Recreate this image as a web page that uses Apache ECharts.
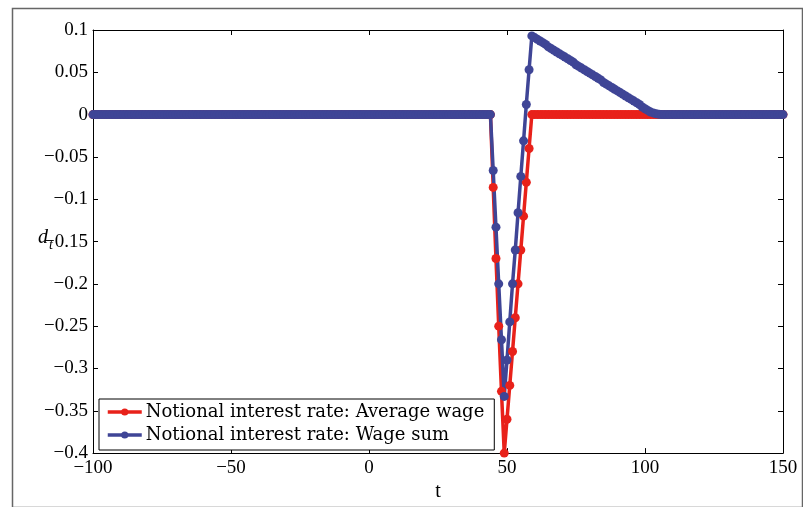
<!DOCTYPE html>
<html>
<head>
<meta charset="utf-8">
<script src="https://cdn.jsdelivr.net/npm/echarts@6/dist/echarts.min.js"></script>
<style>
html,body{margin:0;padding:0;background:#fff;}
#chart{width:803px;height:507px;}
</style>
</head>
<body>
<div id="chart"></div>
<script>
// time index t = -100 ... 150 (step 1)
var tStart = -100, tEnd = 150;
var seriesNames = ['Notional interest rate: Average wage', 'Notional interest rate: Wage sum'];
var xTicks = [-100, -50, 0, 50, 100, 150];
var yTicks = [-0.4, -0.35, -0.3, -0.25, -0.2, -0.15, -0.1, -0.05, 0, 0.05, 0.1];

// Average wage (red), one row = 10 consecutive t values, starting at t = -100
var avgWage = [
  0,0,0,0,0,0,0,0,0,0,            // -100..-91
  0,0,0,0,0,0,0,0,0,0,            // -90..-81
  0,0,0,0,0,0,0,0,0,0,            // -80..-71
  0,0,0,0,0,0,0,0,0,0,            // -70..-61
  0,0,0,0,0,0,0,0,0,0,            // -60..-51
  0,0,0,0,0,0,0,0,0,0,            // -50..-41
  0,0,0,0,0,0,0,0,0,0,            // -40..-31
  0,0,0,0,0,0,0,0,0,0,            // -30..-21
  0,0,0,0,0,0,0,0,0,0,            // -20..-11
  0,0,0,0,0,0,0,0,0,0,            // -10..-1
  0,0,0,0,0,0,0,0,0,0,            // 0..9
  0,0,0,0,0,0,0,0,0,0,            // 10..19
  0,0,0,0,0,0,0,0,0,0,            // 20..29
  0,0,0,0,0,0,0,0,0,0,            // 30..39
  0,0,0,0,0,-0.086,-0.17,-0.25,-0.327,-0.4,          // 40..49
  -0.36,-0.32,-0.28,-0.24,-0.2,-0.16,-0.12,-0.08,-0.04,0, // 50..59
  0,0,0,0,0,0,0,0,0,0,            // 60..69
  0,0,0,0,0,0,0,0,0,0,            // 70..79
  0,0,0,0,0,0,0,0,0,0,            // 80..89
  0,0,0,0,0,0,0,0,0,0,            // 90..99
  0,0,0,0,0,0,0,0,0,0,            // 100..109
  0,0,0,0,0,0,0,0,0,0,            // 110..119
  0,0,0,0,0,0,0,0,0,0,            // 120..129
  0,0,0,0,0,0,0,0,0,0,            // 130..139
  0,0,0,0,0,0,0,0,0,0,            // 140..149
  0                               // 150
];

// Wage sum (blue)
var wageSum = [
  0,0,0,0,0,0,0,0,0,0,            // -100..-91
  0,0,0,0,0,0,0,0,0,0,            // -90..-81
  0,0,0,0,0,0,0,0,0,0,            // -80..-71
  0,0,0,0,0,0,0,0,0,0,            // -70..-61
  0,0,0,0,0,0,0,0,0,0,            // -60..-51
  0,0,0,0,0,0,0,0,0,0,            // -50..-41
  0,0,0,0,0,0,0,0,0,0,            // -40..-31
  0,0,0,0,0,0,0,0,0,0,            // -30..-21
  0,0,0,0,0,0,0,0,0,0,            // -20..-11
  0,0,0,0,0,0,0,0,0,0,            // -10..-1
  0,0,0,0,0,0,0,0,0,0,            // 0..9
  0,0,0,0,0,0,0,0,0,0,            // 10..19
  0,0,0,0,0,0,0,0,0,0,            // 20..29
  0,0,0,0,0,0,0,0,0,0,            // 30..39
  0,0,0,0,0,-0.066,-0.133,-0.2,-0.266,-0.333,          // 40..49
  -0.29,-0.245,-0.2,-0.16,-0.116,-0.073,-0.031,0.012,0.053,0.093, // 50..59
  0.091,0.089,0.087,0.085,0.083,0.080,0.078,0.076,0.074,0.072,   // 60..69
  0.070,0.068,0.066,0.064,0.062,0.059,0.057,0.055,0.053,0.051,   // 70..79
  0.049,0.047,0.045,0.043,0.041,0.038,0.036,0.034,0.032,0.030,   // 80..89
  0.028,0.026,0.024,0.022,0.020,0.018,0.016,0.014,0.012,0.009,   // 90..99
  0.007,0.005,0.003,0.002,0.001,0.0004,0,0,0,0,                  // 100..109
  0,0,0,0,0,0,0,0,0,0,            // 110..119
  0,0,0,0,0,0,0,0,0,0,            // 120..129
  0,0,0,0,0,0,0,0,0,0,            // 130..139
  0,0,0,0,0,0,0,0,0,0,            // 140..149
  0                               // 150
];

function pairs(vals) {
  var out = [];
  for (var i = 0; i < vals.length; i++) out.push([tStart + i, vals[i]]);
  return out;
}

var SERIF = '"Liberation Serif", "DejaVu Serif", serif';
var WIDE_SERIF = '"DejaVu Serif", "Liberation Serif", serif';
var RED = '#e8211a';
var BLUE = '#3f4596';

function fmt(v) {
  var s = String(+(+v).toFixed(2));
  return s.replace('-', '\u2212');
}

var axisLine = {show: true, onZero: false, lineStyle: {color: '#000', width: 1}};
var tick = {show: true, inside: true, length: 5, lineStyle: {color: '#000', width: 1}};

var chart = echarts.init(document.getElementById('chart'), null, {renderer: 'canvas'});
chart.setOption({
  animation: false,
  backgroundColor: '#fff',
  grid: {left: 93, right: 20, top: 30, bottom: 52, containLabel: false},
  xAxis: [{
    type: 'value', min: xTicks[0], max: xTicks[xTicks.length - 1], interval: 50,
    position: 'bottom',
    axisLine: axisLine, axisTick: tick, splitLine: {show: false},
    axisLabel: {formatter: fmt, color: '#000', fontFamily: SERIF, fontSize: 19, margin: 5},
    name: 't', nameLocation: 'middle', nameGap: 24,
    nameTextStyle: {color: '#000', fontFamily: SERIF, fontSize: 20}
  }, {
    type: 'value', min: xTicks[0], max: xTicks[xTicks.length - 1], interval: 50,
    position: 'top',
    axisLine: axisLine, axisTick: tick, splitLine: {show: false}, axisLabel: {show: false}
  }],
  yAxis: [{
    type: 'value', min: yTicks[0], max: yTicks[yTicks.length - 1], interval: 0.05,
    position: 'left',
    axisLine: axisLine, axisTick: tick, splitLine: {show: false},
    axisLabel: {formatter: fmt, color: '#000', fontFamily: SERIF, fontSize: 19, margin: 5}
  }, {
    type: 'value', min: yTicks[0], max: yTicks[yTicks.length - 1], interval: 0.05,
    position: 'right',
    axisLine: axisLine, axisTick: tick, splitLine: {show: false}, axisLabel: {show: false}
  }],
  legend: {
    orient: 'vertical', left: 99, top: 399,
    data: seriesNames,
    backgroundColor: '#fff', borderColor: '#000', borderWidth: 1, borderRadius: 0,
    padding: [3, 10, 5, 7], itemGap: 3, itemWidth: 34, itemHeight: 9,
    lineStyle: {width: 3.5},
    textStyle: {color: '#000', fontFamily: WIDE_SERIF, fontSize: 18, lineHeight: 20, padding: [0, 0, 0, -1]}
  },
  graphic: [{
    type: 'rect', left: 10, top: 6, silent: true,
    shape: {width: 790, height: 499},
    style: {fill: 'none', stroke: '#666', lineWidth: 1.5}
  }, {
    type: 'text', left: 38, top: 228, silent: true,
    style: {text: 'd', fill: '#000', font: 'italic 20px ' + SERIF}
  }, {
    type: 'text', left: 49, top: 238, silent: true,
    style: {text: 't', fill: '#000', font: 'italic 14px ' + SERIF}
  }],
  series: [{
    name: seriesNames[0], type: 'line', data: pairs(avgWage),
    xAxisIndex: 0, yAxisIndex: 0,
    symbol: 'circle', symbolSize: 9, showAllSymbol: true,
    lineStyle: {color: RED, width: 3.5}, itemStyle: {color: RED}
  }, {
    name: seriesNames[1], type: 'line', data: pairs(wageSum),
    xAxisIndex: 0, yAxisIndex: 0,
    symbol: 'circle', symbolSize: 9, showAllSymbol: true,
    lineStyle: {color: BLUE, width: 3.5}, itemStyle: {color: BLUE}
  }]
});
</script>
</body>
</html>
